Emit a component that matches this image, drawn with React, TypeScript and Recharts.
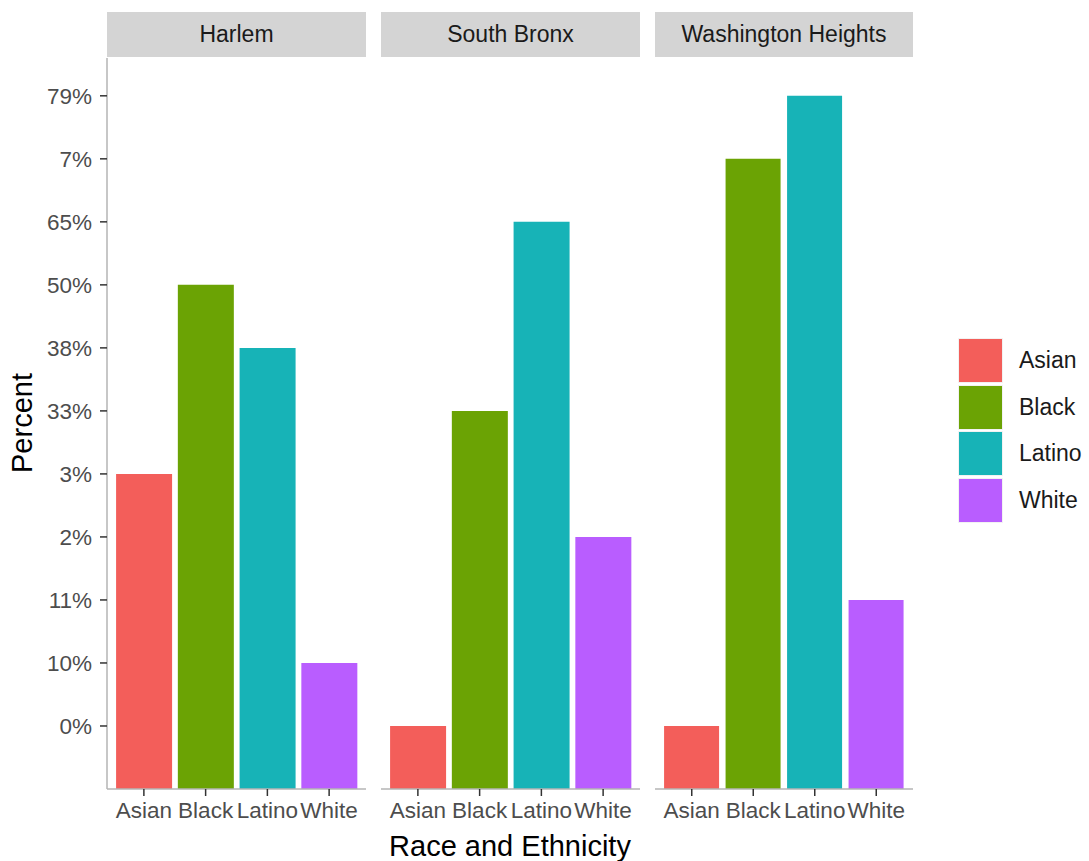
import React from 'react';
import { BarChart, Bar, XAxis, YAxis, Cell } from 'recharts';

// discrete y levels, in the order the axis shows them (bottom to top)
const LEVELS = ['0%', '10%', '11%', '2%', '3%', '33%', '38%', '50%', '65%', '7%', '79%'];
const RACES = ['Asian', 'Black', 'Latino', 'White'];
const COLORS = ['#F35E5A', '#6BA304', '#17B3B7', '#B95DFF'];
const FACETS = ['Harlem', 'South Bronx', 'Washington Heights'];

const HARLEM = ['3%', '50%', '38%', '10%'];
const SOUTH_BRONX = ['0%', '33%', '65%', '2%'];
const WASHINGTON_HEIGHTS = ['0%', '7%', '79%', '11%'];

const FONT = '"Liberation Sans", Arial, Helvetica, sans-serif';
const TICK_IDX = LEVELS.map((_, i) => i + 1);

const toRows = (vals: string[]) =>
  RACES.map((race, i) => ({ race, label: vals[i], level: LEVELS.indexOf(vals[i]) + 1 }));

const PANELS = [
  { name: FACETS[0], rows: toRows(HARLEM), left: 0, width: 366, yWidth: 107 },
  { name: FACETS[1], rows: toRows(SOUTH_BRONX), left: 381, width: 259, yWidth: 0 },
  { name: FACETS[2], rows: toRows(WASHINGTON_HEIGHTS), left: 655, width: 258, yWidth: 0 },
];

function Panel({ rows, left, width, yWidth, name }: any) {
  const plotLeft = left + yWidth;
  return (
    <>
      <div
        style={{
          position: 'absolute',
          left: plotLeft,
          top: 12,
          width: width - yWidth,
          height: 45,
          background: '#d4d4d4',
          color: '#1a1a1a',
          fontSize: 23,
          lineHeight: '45px',
          textAlign: 'center',
        }}
      >
        {name}
      </div>
      <div style={{ position: 'absolute', left, top: 0 }}>
        <BarChart
          width={width}
          height={861}
          data={rows}
          margin={{ top: 58, right: 0, bottom: 0, left: 0 }}
          barCategoryGap="5%"
        >
          <XAxis
            dataKey="race"
            type="category"
            height={72}
            interval={0}
            padding={{ left: 6, right: 6 }}
            axisLine={{ stroke: '#b5b5b5', strokeWidth: 1.5 }}
            tickLine={{ stroke: '#333333', strokeWidth: 1.5 }}
            tickSize={7}
            tickMargin={6}
            tick={{ fontSize: 22.5, fill: '#4d4d4d', fontFamily: FONT }}
          />
          {yWidth > 0 ? (
            <YAxis
              type="number"
              domain={[0, 11.6]}
              allowDataOverflow
              ticks={TICK_IDX}
              interval={0}
              width={yWidth}
              tickFormatter={(v: number) => LEVELS[v - 1]}
              axisLine={{ stroke: '#b5b5b5', strokeWidth: 1.5 }}
              tickLine={{ stroke: '#333333', strokeWidth: 1.5 }}
              tickSize={7}
              tickMargin={8}
              tick={{ fontSize: 22.5, fill: '#4d4d4d', fontFamily: FONT }}
            />
          ) : (
            <YAxis type="number" domain={[0, 11.6]} allowDataOverflow hide />
          )}
          <Bar dataKey="level" isAnimationActive={false}>
            {rows.map((r: any, i: number) => (
              <Cell key={r.race} fill={COLORS[i % COLORS.length]} />
            ))}
          </Bar>
        </BarChart>
      </div>
    </>
  );
}

export default function App() {
  return (
    <div
      style={{
        position: 'absolute',
        left: 0,
        top: 0,
        width: 1089,
        height: 861,
        background: '#ffffff',
        fontFamily: FONT,
        overflow: 'hidden',
      }}
    >
      {PANELS.map((p) => (
        <Panel key={p.name} {...p} />
      ))}

      {/* axis titles */}
      <div
        style={{
          position: 'absolute',
          left: 107,
          width: 806,
          top: 829,
          textAlign: 'center',
          fontSize: 29,
          color: '#000',
          lineHeight: '34px',
        }}
      >
        Race and Ethnicity
      </div>
      <div
        style={{
          position: 'absolute',
          left: 22,
          top: 423,
          transform: 'translate(-50%, -50%) rotate(-90deg)',
          fontSize: 29,
          color: '#000',
          whiteSpace: 'nowrap',
        }}
      >
        Percent
      </div>

      {/* legend */}
      {RACES.map((race, i) => (
        <React.Fragment key={race}>
          <div
            style={{
              position: 'absolute',
              left: 959,
              top: 339 + i * 46.5,
              width: 43,
              height: 43,
              background: COLORS[i],
              boxShadow: '0 0 0 1px #f2f2f2',
            }}
          />
          <div
            style={{
              position: 'absolute',
              left: 1019,
              top: 339 + i * 46.5,
              height: 43,
              lineHeight: '43px',
              fontSize: 23,
              color: '#1a1a1a',
            }}
          >
            {race}
          </div>
        </React.Fragment>
      ))}
    </div>
  );
}
